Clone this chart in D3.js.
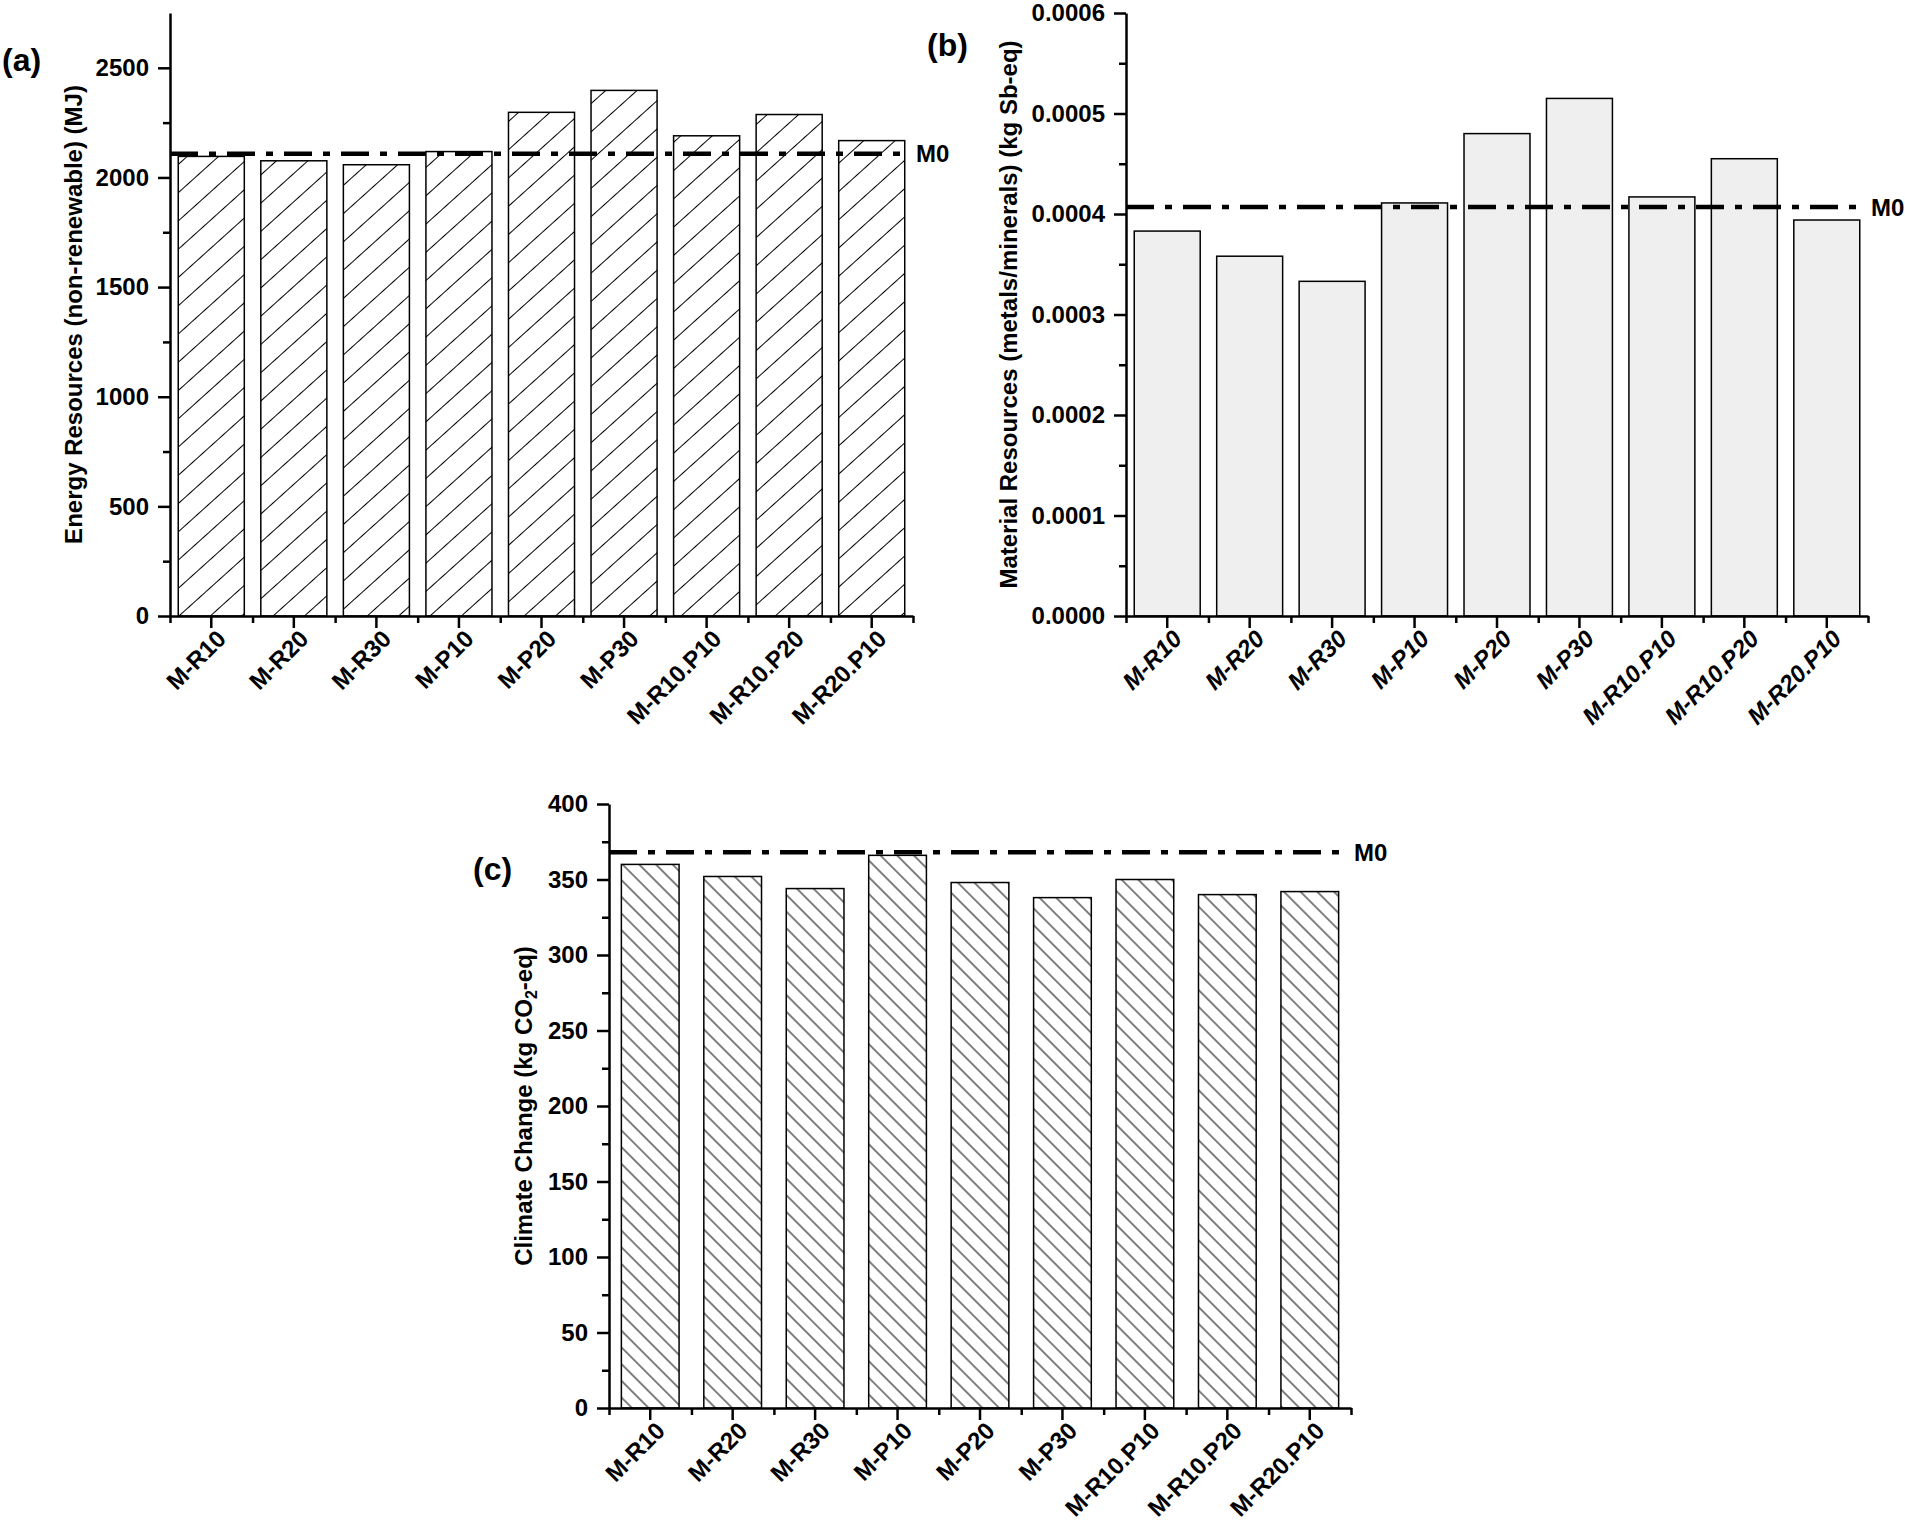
<!DOCTYPE html>
<html>
<head>
<meta charset="utf-8">
<script src="https://cdn.jsdelivr.net/npm/d3@7"></script>
<style>
body{margin:0;background:#fff;}
svg text{font-family:"Liberation Sans",Arial,sans-serif;font-weight:bold;fill:#000;}
</style>
</head>
<body>
<div id="chart"></div>
<script>
// categories shared by the three panels
const categories = ["M-R10","M-R20","M-R30","M-P10","M-P20","M-P30","M-R10.P10","M-R10.P20","M-R20.P10"];

// (a) energy resources, MJ
const energyValues = [2096, 2076, 2058, 2118, 2297, 2397, 2190, 2287, 2168];
const energyRef = 2108;
const energyTicks = [0, 500, 1000, 1500, 2000, 2500];

// (b) material resources, kg Sb-eq
const materialValues = [0.000383, 0.000358, 0.000333, 0.000411, 0.000480, 0.000515, 0.000417, 0.000455, 0.000394];
const materialRef = 0.000407;
const materialTicks = [0, 0.0001, 0.0002, 0.0003, 0.0004, 0.0005, 0.0006];

// (c) climate change, kg CO2-eq
const climateValues = [360, 352, 344, 366, 348, 338, 350, 340, 342];
const climateRef = 368;
const climateTicks = [0, 50, 100, 150, 200, 250, 300, 350, 400];

let width = 1905;
let height = 1529;
let fontSize = "24px";

let svg = d3.select("#chart").append("svg")
  .attr("width", width)
  .attr("height", height);

svg.append("rect").attr("width", width).attr("height", height).attr("fill", "#fff");

let defs = svg.append("defs");
// hatch "/" for (a)
let pa = defs.append("pattern")
  .attr("id", "hatchA")
  .attr("patternUnits", "userSpaceOnUse")
  .attr("width", 20).attr("height", 21)
  .attr("patternTransform", "rotate(-42)");
pa.append("rect").attr("width", 20).attr("height", 21).attr("fill", "#fff");
pa.append("line").attr("x1", 0).attr("x2", 20).attr("y1", 10.5).attr("y2", 10.5)
  .attr("stroke", "#000").attr("stroke-width", 1);

// hatch "\" for (c)
let pc = defs.append("pattern")
  .attr("id", "hatchC")
  .attr("patternUnits", "userSpaceOnUse")
  .attr("width", 20).attr("height", 11.8)
  .attr("patternTransform", "rotate(45)");
pc.append("rect").attr("width", 20).attr("height", 11.8).attr("fill", "#fff");
pc.append("line").attr("x1", 0).attr("x2", 20).attr("y1", 5.9).attr("y2", 5.9)
  .attr("stroke", "#000").attr("stroke-width", 1);

function drawPanel(p){
  let g = svg.append("g");

  let x = d3.scaleBand()
    .domain(categories)
    .range([p.x0, p.x1])
    .paddingInner(p.pad)
    .paddingOuter(p.pad / 2);

  let y = d3.scaleLinear().domain(p.domain).range([p.yb, p.yt]);

  // bars
  g.selectAll("rect.bar")
    .data(p.values)
    .enter()
    .append("rect")
    .attr("class", "bar")
    .attr("x", (d, i) => x(categories[i]))
    .attr("width", x.bandwidth())
    .attr("y", d => y(d))
    .attr("height", d => y(0) - y(d))
    .attr("fill", p.fill)
    .attr("stroke", "#000")
    .attr("stroke-width", 1.5);

  // reference line M0
  g.append("line")
    .attr("x1", p.x0).attr("x2", p.x1 - 4)
    .attr("y1", y(p.ref)).attr("y2", y(p.ref))
    .attr("stroke", "#000")
    .attr("stroke-width", 4.5)
    .attr("stroke-dasharray", "28 11 7 11");
  g.append("text").text("M0")
    .attr("x", p.x1 + 3)
    .attr("y", y(p.ref))
    .attr("dy", "0.36em")
    .style("font-size", fontSize);

  // y axis, major and minor ticks
  let yAxis = d3.axisLeft(y).tickValues(p.ticks).tickFormat(p.fmt)
    .tickSize(12).tickSizeOuter(0).tickPadding(9);
  let ya = g.append("g").attr("transform", "translate(" + p.x0 + ",0)").call(yAxis);
  let yMinor = d3.axisLeft(y).tickValues(p.minor).tickFormat("").tickSize(7).tickSizeOuter(0);
  g.append("g").attr("transform", "translate(" + p.x0 + ",0)").call(yMinor)
    .select(".domain").remove();

  // x axis: major ticks at centres, minor at band edges
  let xAxis = d3.axisBottom(x).tickSize(12).tickSizeOuter(0).tickFormat("");
  g.append("g").attr("transform", "translate(0," + p.yb + ")").call(xAxis);
  let edge = d3.scaleLinear().domain([0, categories.length]).range([p.x0, p.x1]);
  let xMinor = d3.axisBottom(edge).tickValues(d3.range(0, categories.length + 1))
    .tickFormat("").tickSize(7).tickSizeOuter(0);
  g.append("g").attr("transform", "translate(0," + p.yb + ")").call(xMinor)
    .select(".domain").remove();

  g.selectAll(".domain").attr("stroke-width", 2.5).attr("stroke", "#000");
  g.selectAll(".tick line").attr("stroke-width", 2.5).attr("stroke", "#000");
  ya.selectAll(".tick text").style("font-size", fontSize).attr("fill", "#000");

  // rotated category labels
  g.selectAll("text.xlab")
    .data(categories)
    .enter()
    .append("text")
    .attr("class", "xlab")
    .text(d => d)
    .attr("text-anchor", "end")
    .attr("dy", "0.72em")
    .attr("transform", d => "translate(" + (x(d) + x.bandwidth() / 2 + 4) + "," + (p.yb + 12) + ") rotate(-45)")
    .style("font-size", fontSize)
    .style("font-style", p.italic ? "italic" : "normal");

  // axis title
  let t = g.append("text")
    .attr("text-anchor", "middle")
    .attr("transform", "translate(" + p.titleX + "," + ((p.yt + p.yb) / 2) + ") rotate(-90)")
    .style("font-size", fontSize);
  p.title(t);

  // panel letter
  g.append("text").text(p.letter)
    .attr("x", p.lx).attr("y", p.ly)
    .style("font-size", "32px");
}

drawPanel({
  x0: 170, x1: 913, yt: 13, yb: 616,
  domain: [0, 2750], ticks: energyTicks,
  minor: [250, 750, 1250, 1750, 2250],
  fmt: d3.format("d"),
  values: energyValues, ref: energyRef,
  fill: "url(#hatchA)", pad: 0.2, italic: false,
  titleX: 82,
  title: t => t.text("Energy Resources (non-renewable) (MJ)"),
  letter: "(a)", lx: 2, ly: 71
});

drawPanel({
  x0: 1126, x1: 1868, yt: 13, yb: 616,
  domain: [0, 0.0006], ticks: materialTicks,
  minor: [0.00005, 0.00015, 0.00025, 0.00035, 0.00045, 0.00055],
  fmt: d3.format(".4f"),
  values: materialValues, ref: materialRef,
  fill: "#efefef", pad: 0.2, italic: true,
  titleX: 1017,
  title: t => t.text("Material Resources (metals/minerals) (kg Sb-eq)"),
  letter: "(b)", lx: 927, ly: 56
});

drawPanel({
  x0: 609, x1: 1351, yt: 804, yb: 1408,
  domain: [0, 400], ticks: climateTicks,
  minor: [25, 75, 125, 175, 225, 275, 325, 375],
  fmt: d3.format("d"),
  values: climateValues, ref: climateRef,
  fill: "url(#hatchC)", pad: 0.3, italic: false,
  titleX: 532,
  title: t => {
    t.append("tspan").text("Climate Change (kg CO");
    t.append("tspan").text("2").attr("dy", 5).style("font-size", "16px");
    t.append("tspan").text("-eq)").attr("dy", -5);
  },
  letter: "(c)", lx: 473, ly: 880
});
</script>
</body>
</html>
